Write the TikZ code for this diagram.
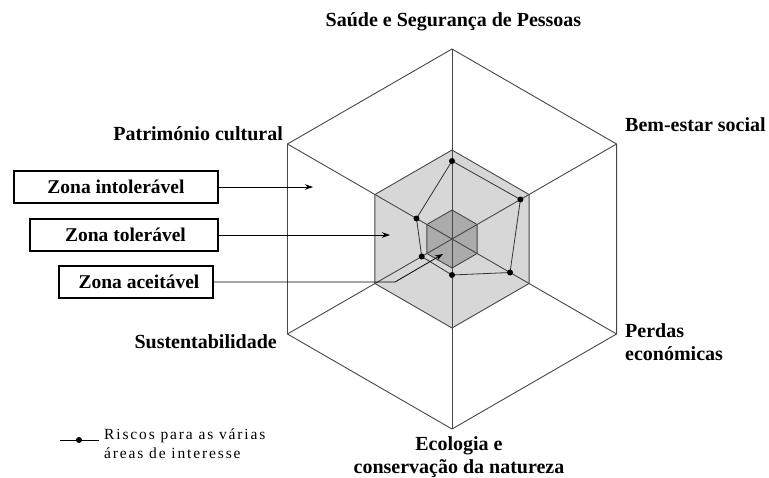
\documentclass[tikz,border=0pt]{standalone}
\usepackage{fontspec}
\setmainfont{Liberation Serif}
\newfontfamily\legendfont{Liberation Serif}[LetterSpace=12]
\usetikzlibrary{arrows.meta,calc}
\begin{document}
\begin{tikzpicture}[x=1pt,y=-1pt,
  lbl/.style={font=\bfseries\fontsize{20}{23}\selectfont, inner sep=0pt},
  zonebox/.style={draw=black, line width=2.4pt, font=\bfseries\fontsize{19.5}{23}\selectfont, minimum height=32pt, inner sep=0pt},
  hexline/.style={draw=black!72, line width=0.9pt},
  ptr/.style={-{Stealth[length=8pt,width=5.5pt]}, line width=0.8pt},
  risk/.style={circle, fill=black, inner sep=0pt, minimum size=6pt},
  riskline/.style={draw=black!80, line width=0.8pt}]
\useasboundingbox (0,0) rectangle (769,477);
\coordinate (C) at (452,239);
\foreach \a/\n/\r in {-90/1/78,-30/2/79,30/3/67,90/4/36,150/5/35,210/6/41} {
  \coordinate (O\n) at ([shift={(\a:190)}]C);
  \coordinate (M\n) at ([shift={(\a:89)}]C);
  \coordinate (I\n) at ([shift={(\a:29)}]C);
  \coordinate (R\n) at ([shift={(\a:\r)}]C);
}
% zones
\fill[gray!31] (M1) -- (M2) -- (M3) -- (M4) -- (M5) -- (M6) -- cycle;
\fill[gray!66] (I1) -- (I2) -- (I3) -- (I4) -- (I5) -- (I6) -- cycle;
% spokes
\foreach \n in {1,...,6} { \draw[hexline] (C) -- (O\n); }
\draw[hexline] (O1) -- (O2) -- (O3) -- (O4) -- (O5) -- (O6) -- cycle;
\draw[hexline] (M1) -- (M2) -- (M3) -- (M4) -- (M5) -- (M6) -- cycle;
\draw[hexline] (I1) -- (I2) -- (I3) -- (I4) -- (I5) -- (I6) -- cycle;
% risk profile
\draw[riskline] (R1) -- (R2) -- (R3) -- (R4) -- (R5) -- (R6) -- cycle;
\foreach \n in {1,...,6} { \node[risk] (d\n) at (R\n) {}; }
% axis labels
\node[lbl] (saude) at (453.5,22) {Saúde e Segurança de Pessoas};
\node[lbl, anchor=east] (patr) at (283,134) {Património cultural};
\node[lbl, anchor=west] (bem) at (625,125) {Bem-estar social};
\node[lbl, anchor=west, align=left] (perdas) at (625,342) {Perdas\\económicas};
\node[lbl, anchor=east] (sust) at (277,342) {Sustentabilidade};
\node[lbl, align=center] (eco) at (459,457) {Ecologia e\\conservação da natureza};
% zone boxes and pointers
\node[zonebox, minimum width=204pt] (zi) at (116,187) {Zona intolerável};
\node[zonebox, minimum width=188pt] (zt) at (124,235) {\hspace*{3pt}Zona tolerável};
\node[zonebox, minimum width=154pt] (za) at (136,282) {\hspace*{6pt}Zona aceitável};
\coordinate (ti) at (313,187);
\coordinate (tt) at (390,235);
\coordinate (ab) at (395,282);
\coordinate (ta) at (443,254);
\draw[ptr] (zi.east) -- (ti);
\draw[ptr] (zt.east) -- (tt);
\draw[ptr] (za.east) -- (ab) -- (ta);
% legend
\coordinate (L1) at (60,440);
\coordinate (L2) at (99,440);
\draw[line width=0.9pt] (L1) -- (L2);
\node[risk] (ld) at (79,440) {};
\node[anchor=west, align=left, font=\legendfont\fontsize{15.5}{19}\selectfont, inner sep=0pt] (lt) at (104,444) {Riscos para as várias\\áreas de interesse};
\end{tikzpicture}
\end{document}
